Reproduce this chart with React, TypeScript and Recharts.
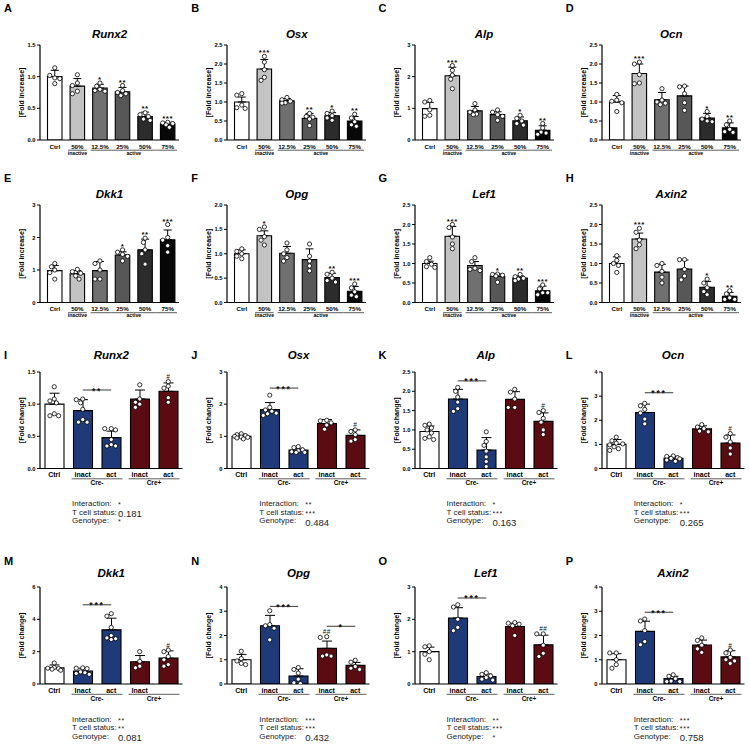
import React from 'react';
import { ComposedChart, Bar, Cell, ErrorBar, XAxis, YAxis, Scatter, ReferenceLine } from 'recharts';

const FONT = '"Liberation Sans", Arial, Helvetica, sans-serif';

// ---- shared categories ----
const doseCats = ['Ctrl', '50%', '12.5%', '25%', '50%', '75%'];
const doseGroups = [{ label: 'inactive', from: 1, to: 1 }, { label: 'active', from: 2, to: 5 }];
const doseColors = ['#ffffff', '#c3c3c3', '#707070', '#575757', '#2c2c2c', '#080808'];
const creCats = ['Ctrl', 'inact', 'act', 'inact', 'act'];
const creCatsM = ['Ctrl', 'Inact', 'act', 'Inact', ''];
const creGroups = [{ label: 'Cre-', from: 1, to: 2 }, { label: 'Cre+', from: 3, to: 4 }];
const creColors = ['#ffffff', '#1f3a78', '#1f3a78', '#5b0c12', '#5b0c12'];
const statNames = ['Interaction:', 'T cell status:', 'Genotype:'];

// ---- A Runx2 ----
const aMean = [1.0, 0.85, 0.82, 0.76, 0.37, 0.25];
const aSd = [0.1, 0.12, 0.06, 0.07, 0.07, 0.03];
const aPts = [[1.14, 0.98, 1.02, 0.97, 0.89], [1.03, 0.9, 0.86, 0.77, 0.73], [0.9, 0.85, 0.8, 0.78, 0.77], [0.86, 0.78, 0.75, 0.73, 0.7], [0.43, 0.4, 0.37, 0.33, 0.31], [0.28, 0.27, 0.26, 0.24, 0.2]];
const aSig = ['', '', '*', '**', '**', '***'];
// ---- B Osx ----
const bMean = [1.0, 1.87, 1.03, 0.57, 0.64, 0.5];
const bSd = [0.13, 0.25, 0.06, 0.13, 0.08, 0.12];
const bPts = [[1.22, 1.18, 0.92, 0.85, 0.83], [2.2, 2.05, 1.85, 1.65, 1.57], [1.12, 1.06, 1.02, 0.98, 0.97], [0.7, 0.62, 0.6, 0.55, 0.38], [0.76, 0.7, 0.64, 0.58, 0.52], [0.68, 0.58, 0.48, 0.4, 0.36]];
const bSig = ['', '***', '', '**', '*', '**'];
// ---- C Alp ----
const cMean = [0.99, 2.03, 0.92, 0.8, 0.61, 0.31];
const cSd = [0.2, 0.27, 0.14, 0.09, 0.12, 0.14];
const cPts = [[1.25, 1.2, 0.95, 0.78, 0.75], [2.35, 2.2, 2.05, 1.92, 1.62], [1.15, 0.95, 0.88, 0.82, 0.8], [0.95, 0.88, 0.8, 0.75, 0.62], [0.78, 0.68, 0.6, 0.52, 0.47], [0.52, 0.38, 0.25, 0.22, 0.18]];
const cSig = ['', '***', '', '', '*', '**'];
// ---- D Ocn ----
const dMean = [1.0, 1.75, 1.06, 1.16, 0.58, 0.32];
const dSd = [0.17, 0.25, 0.19, 0.26, 0.12, 0.13];
const dPts = [[1.2, 1.05, 1.02, 0.98, 0.75], [2.05, 2.0, 1.72, 1.5, 1.48], [1.35, 1.05, 1.0, 0.97, 0.93], [1.42, 1.4, 1.22, 0.98, 0.78], [0.75, 0.62, 0.55, 0.5, 0.48], [0.5, 0.4, 0.28, 0.22, 0.2]];
const dSig = ['', '***', '', '', '*', '**'];
// ---- E Dkk1 ----
const eMean = [0.98, 0.88, 0.98, 1.46, 1.62, 1.93];
const eSd = [0.16, 0.1, 0.28, 0.1, 0.33, 0.3];
const ePts = [[1.2, 1.1, 1.0, 0.92, 0.72], [1.02, 0.95, 0.9, 0.82, 0.72], [1.28, 1.2, 1.0, 0.72, 0.72], [1.62, 1.55, 1.48, 1.42, 1.28], [1.98, 1.85, 1.62, 1.5, 1.18], [2.4, 2.0, 1.92, 1.75, 1.55]];
const eSig = ['', '', '', '*', '**', '***'];
// ---- F Opg ----
const fMean = [1.0, 1.37, 1.01, 0.88, 0.51, 0.23];
const fSd = [0.08, 0.1, 0.14, 0.22, 0.09, 0.1];
const fPts = [[1.1, 1.05, 1.0, 0.95, 0.9], [1.55, 1.5, 1.35, 1.28, 1.18], [1.22, 1.08, 1.0, 0.92, 0.85], [1.2, 0.95, 0.85, 0.75, 0.65], [0.62, 0.58, 0.5, 0.45, 0.42], [0.38, 0.3, 0.22, 0.15, 0.12]];
const fSig = ['', '*', '', '', '**', '***'];
// ---- G Lef1 ----
const gMean = [1.0, 1.7, 0.95, 0.67, 0.63, 0.3];
const gSd = [0.06, 0.25, 0.1, 0.06, 0.05, 0.12];
const gPts = [[1.15, 1.05, 0.98, 0.92, 0.9], [2.0, 1.92, 1.68, 1.5, 1.38], [1.15, 1.05, 0.88, 0.85, 0.82], [0.73, 0.72, 0.7, 0.68, 0.52], [0.72, 0.66, 0.62, 0.6, 0.56], [0.45, 0.35, 0.25, 0.25, 0.2]];
const gSig = ['', '***', '', '*', '**', '***'];
// ---- H Axin2 ----
const hMean = [1.0, 1.63, 0.78, 0.86, 0.39, 0.16];
const hSd = [0.17, 0.15, 0.2, 0.23, 0.15, 0.1];
const hPts = [[1.2, 1.08, 1.0, 0.95, 0.77], [1.9, 1.8, 1.6, 1.48, 1.38], [1.0, 0.95, 0.8, 0.65, 0.5], [1.1, 1.1, 0.85, 0.68, 0.58], [0.6, 0.5, 0.38, 0.28, 0.2], [0.3, 0.22, 0.12, 0.08, 0.08]];
const hSig = ['', '***', '', '', '*', '**'];

// ---- I Runx2 ----
const iMean = [1.0, 0.9, 0.48, 1.08, 1.2];
const iSd = [0.17, 0.17, 0.1, 0.14, 0.13];
const iPts = [[1.27, 1.08, 1.05, 1.02, 0.85, 0.82, 0.82], [1.08, 1.07, 1.02, 0.92, 0.76, 0.72, 0.72], [0.62, 0.62, 0.6, 0.45, 0.37, 0.35, 0.35], [1.3, 1.08, 1.03, 1.0, 0.95], [1.35, 1.28, 1.25, 1.1, 1.03]];
const iHash = ['', '', '', '', '#'];
const iBrackets = [{ from: 1, to: 2, y: 1.22, t: '**' }];
const iStats = ['*', '0.181', '*'];
// ---- J Osx ----
const jMean = [1.0, 1.83, 0.57, 1.4, 1.03];
const jSd = [0.07, 0.22, 0.06, 0.12, 0.17];
const jPts = [[1.08, 1.05, 1.02, 1.0, 0.98, 0.97, 0.95, 0.92], [2.28, 1.9, 1.82, 1.78, 1.72, 1.7, 1.65], [0.68, 0.65, 0.58, 0.55, 0.52, 0.5, 0.5], [1.5, 1.48, 1.42, 1.35, 1.22], [1.2, 1.15, 1.05, 0.9, 0.85]];
const jHash = ['', '', '', '', '#'];
const jBrackets = [{ from: 1, to: 2, y: 2.5, t: '***' }];
const jStats = ['**', '***', '0.484'];
// ---- K Alp ----
const kMean = [0.96, 1.8, 0.48, 1.79, 1.22];
const kSd = [0.14, 0.25, 0.32, 0.2, 0.22];
const kPts = [[1.15, 1.12, 1.05, 1.0, 0.92, 0.82, 0.78, 0.75], [2.1, 2.0, 1.85, 1.72, 1.55, 1.48], [0.95, 0.7, 0.6, 0.45, 0.3, 0.18, 0.05], [2.05, 1.98, 1.8, 1.58, 1.58], [1.5, 1.45, 1.3, 1.2, 1.0, 0.88]];
const kHash = ['', '', '', '', '#'];
const kBrackets = [{ from: 1, to: 2, y: 2.27, t: '***' }];
const kStats = ['*', '***', '0.163'];
// ---- L Ocn ----
const lMean = [1.0, 2.32, 0.42, 1.65, 1.06];
const lSd = [0.2, 0.35, 0.08, 0.12, 0.33];
const lPts = [[1.3, 1.15, 1.05, 1.02, 0.98, 0.9, 0.82, 0.75], [2.7, 2.6, 2.45, 2.3, 2.05, 1.85], [0.52, 0.5, 0.45, 0.42, 0.4, 0.35, 0.3], [1.82, 1.72, 1.65, 1.55, 1.52], [1.45, 1.3, 1.1, 0.85, 0.6]];
const lHash = ['', '', '', '', '#'];
const lBrackets = [{ from: 1, to: 2, y: 3.14, t: '***' }];
const lStats = ['*', '***', '0.265'];
// ---- M Dkk1 ----
const mMean = [1.0, 0.8, 3.35, 1.38, 1.6];
const mSd = [0.18, 0.18, 0.72, 0.38, 0.45];
const mPts = [[1.3, 1.02, 0.98, 0.95, 0.92, 0.85], [1.0, 0.98, 0.95, 0.75, 0.7, 0.65, 0.6], [4.35, 4.2, 3.5, 3.0, 2.85, 2.8, 2.75], [2.0, 1.4, 1.1, 1.0], [2.1, 2.0, 1.7, 1.5, 1.2, 1.1]];
const mHash = ['', '', '', '', '#'];
const mBrackets = [{ from: 1, to: 2, y: 4.9, t: '***' }];
const mStats = ['**', '**', '0.081'];
// ---- N Opg ----
const nMean = [1.0, 2.4, 0.33, 1.47, 0.77];
const nSd = [0.22, 0.43, 0.3, 0.3, 0.12];
const nPts = [[1.35, 1.05, 0.95, 0.85, 0.8], [3.02, 2.45, 2.4, 2.3, 1.82], [0.68, 0.6, 0.45, 0.2, 0.05, 0.02], [1.95, 1.92, 1.2, 1.15, 1.15], [0.98, 0.9, 0.72, 0.65, 0.6]];
const nHash = ['', '', '', '##', ''];
const nBrackets = [{ from: 1, to: 2, y: 3.2, t: '***' }, { from: 3, to: 4, y: 2.38, t: '*' }];
const nStats = ['***', '***', '0.432'];
// ---- O Lef1 ----
const oMean = [1.0, 2.04, 0.23, 1.78, 1.21];
const oSd = [0.14, 0.32, 0.08, 0.1, 0.3];
const oPts = [[1.18, 1.15, 1.0, 0.92, 0.75], [2.45, 2.38, 2.0, 1.75, 1.65], [0.35, 0.3, 0.25, 0.2, 0.15, 0.12], [1.9, 1.88, 1.85, 1.8, 1.5], [1.55, 1.55, 1.2, 0.95, 0.85]];
const oHash = ['', '', '', '', '##'];
const oBrackets = [{ from: 1, to: 2, y: 2.66, t: '***' }];
const oStats = ['**', '***', '*'];
// ---- P Axin2 ----
const pMean = [1.0, 2.17, 0.22, 1.61, 1.12];
const pSd = [0.25, 0.42, 0.1, 0.2, 0.25];
const pPts = [[1.28, 1.28, 1.0, 0.8, 0.65], [2.68, 2.6, 2.2, 1.75, 1.62], [0.38, 0.32, 0.22, 0.12, 0.1, 0.1], [1.9, 1.8, 1.6, 1.45, 1.3], [1.4, 1.28, 1.1, 1.0, 0.95, 0.85]];
const pHash = ['', '', '', '', '#'];
const pBrackets = [{ from: 1, to: 2, y: 2.96, t: '***' }];
const pStats = ['***', '***', '0.758'];

const ticks15 = [0, 0.5, 1.0, 1.5];
const ticks20 = [0, 0.5, 1.0, 1.5, 2.0];
const ticks25 = [0, 0.5, 1.0, 1.5, 2.0, 2.5];
const ticks3 = [0, 1, 2, 3];
const ticks4 = [0, 1, 2, 3, 4];
const ticks6 = [0, 2, 4, 6];

// row layout (page pixels)
const ROWS = [
  { letter: 8, title: 34, top: 44.5, bottom: 139.5, stats: 0 },
  { letter: 178, title: 194, top: 204.5, bottom: 302, stats: 0 },
  { letter: 355, title: 355, top: 371.5, bottom: 468, stats: 504 },
  { letter: 561, title: 573, top: 587.3, bottom: 684.3, stats: 719.5 },
];

type Group = { label: string; from: number; to: number };
type Br = { from: number; to: number; y: number; t: string };
type PanelProps = {
  letter: string; title: string; col: number; row: number;
  cats: string[]; groups: Group[]; colors: string[]; yLabel: string;
  mean: number[]; sd: number[]; pts: number[][]; sig: string[];
  yMax: number; ticks: number[];
  brackets?: Br[]; stats?: string[];
};

// spread the points of one bar sideways so they do not overlap
function swarm(vals: number[], idx: number, pxU: number, band: number, maxOff: number) {
  const placed: { dx: number; dy: number }[] = [];
  const steps = [0, -1, 1, -2, 2, -3, 3];
  return vals.map((v) => {
    const dy = v * pxU;
    let best = 0;
    let bestD = -1;
    for (const s of steps) {
      const dx = (s * maxOff) / 3;
      const d = placed.reduce((m, q) => Math.min(m, Math.hypot(dx - q.dx, dy - q.dy)), Infinity);
      if (d >= 4.4) { best = dx; bestD = d; break; }
      if (d > bestD) { bestD = d; best = dx; }
    }
    placed.push({ dx: best, dy });
    return { x: idx + best / band, v };
  });
}

const Dot = (props: any) => (
  <circle cx={props.cx} cy={props.cy} r={2.1} fill="#fff" stroke="#000" strokeWidth={0.8} />
);

const Mark = (props: any) => {
  const k = props.payload.kind;
  const fs = k === 'br' ? 8.5 : k === 'hash' ? 6.5 : 8;
  const ls = k === 'br' ? 1.8 : k === 'hash' ? 0.3 : 0.6;
  const dy = k === 'br' ? 3.5 : k === 'hash' ? -2.5 : -1;
  return (
    <text x={props.cx} y={props.cy + dy} textAnchor="middle" fontSize={fs} letterSpacing={ls}
      fontWeight={k === 'hash' ? 400 : 700} fontFamily={FONT} fill="#111">{props.payload.t}</text>
  );
};

function Panel(p: PanelProps) {
  const n = p.cats.length;
  const top = p.row < 2;
  const R = ROWS[p.row];
  const left = p.col * 187.25;
  const MT = 10;
  const plotH = R.bottom - R.top;
  const plotL = 40;
  const plotR = top ? 179 : 182.5;
  const padL = top ? 3.5 : 0;
  const band = (plotR - plotL - padL) / n;
  const barW = top ? 14.5 : 19;
  const chartH = MT + plotH + 34;
  const pxU = plotH / p.yMax;
  const dec = p.ticks.some((t) => t % 1 !== 0);

  const data = p.mean.map((m, i) => ({ name: p.cats[i], mean: m, err: [0, p.sd[i]] }));
  const dots = p.pts.flatMap((vals, i) => swarm(vals, i, pxU, band, top ? 5 : 6.5));
  const tops = p.mean.map((m, i) => Math.max(m + p.sd[i], ...p.pts[i]));
  const marks = [
    ...p.sig.map((t, i) => ({ x: i, v: tops[i], t, kind: top ? 'sig' : 'hash' })).filter((d) => d.t),
    ...(p.brackets || []).map((b) => ({ x: (b.from + b.to) / 2, v: b.y, t: b.t, kind: 'br' })),
  ];

  const lab = top ? { l: 8.5, u: 10.2, g: 14.6, fs: 6.2, gfs: 5.2, gap: 2 } : { l: 8.6, u: 10.3, g: 16.6, fs: 7, gfs: 6.5, gap: 3 };

  const renderTick = (tp: any) => {
    const { x, y } = tp;
    const index = tp.index ?? tp.payload?.index ?? 0;
    const g = p.groups.find((gg) => index >= gg.from && index <= gg.to);
    return (
      <g>
        <text x={x} y={y + lab.l} textAnchor="middle" fontSize={lab.fs} fontWeight={700} fontFamily={FONT} fill="#000">
          {p.cats[index]}
        </text>
        {g && (
          <line x1={x - band / 2 + (index === g.from ? lab.gap : 0)} x2={x + band / 2 - (index === g.to ? lab.gap : 0)}
            y1={y + lab.u} y2={y + lab.u} stroke="#333" strokeWidth={0.8} />
        )}
        {g && index === g.from && (
          <text x={x + ((g.to - g.from) * band) / 2} y={y + lab.g} textAnchor="middle" fontSize={lab.gfs}
            fontWeight={700} fontFamily={FONT} fill="#000">{g.label}</text>
        )}
      </g>
    );
  };

  return (
    <>
      <div style={{ position: 'absolute', left: left + 4, top: R.letter - 7, fontSize: 11, lineHeight: '14px', fontWeight: 700, fontFamily: FONT }}>
        {p.letter}
      </div>
      <div style={{ position: 'absolute', left: left + plotL, width: plotR - plotL, top: R.title - 7, textAlign: 'center', fontSize: 11.5, lineHeight: '14px', fontWeight: 700, fontStyle: 'italic', fontFamily: FONT }}>
        {p.title}
      </div>
      <div style={{ position: 'absolute', left, top: R.top - MT }}>
        <ComposedChart width={187} height={chartH} data={data} margin={{ top: MT, right: 187 - plotR, bottom: 0, left: 0 }}>
          <XAxis xAxisId="c" dataKey="name" type="category" interval={0} tickLine={false} tickSize={0} tickMargin={0}
            axisLine={{ stroke: '#000', strokeWidth: 1.2 }} tick={renderTick} height={34} padding={{ left: padL, right: 0 }} />
          <XAxis xAxisId="n" dataKey="x" type="number" domain={[-0.5, n - 0.5]} allowDataOverflow hide padding={{ left: padL, right: 0 }} />
          <YAxis yAxisId="y" type="number" domain={[0, p.yMax]} ticks={p.ticks} interval={0} width={plotL} allowDataOverflow
            tickSize={3} tickMargin={1.5} axisLine={{ stroke: '#000', strokeWidth: 1.2 }} tickLine={{ stroke: '#000', strokeWidth: 1 }}
            tick={{ fontSize: 5.8, fontWeight: 700, fill: '#000', fontFamily: FONT }}
            tickFormatter={(v: number) => (dec ? v.toFixed(1) : String(v))}
            label={{ value: p.yLabel, angle: -90, position: 'insideLeft', offset: 22, style: { textAnchor: 'middle', fontSize: 7, fontWeight: 700, fill: '#000', fontFamily: FONT } }} />
          <Bar xAxisId="c" yAxisId="y" dataKey="mean" barSize={barW} stroke="#000" strokeWidth={1.1} isAnimationActive={false}>
            {data.map((_, i) => <Cell key={i} fill={p.colors[i]} />)}
            <ErrorBar dataKey="err" width={top ? 4 : 5} stroke="#000" strokeWidth={1} direction="y" isAnimationActive={false} />
          </Bar>
          {(p.brackets || []).map((b, i) => (
            <ReferenceLine key={i} xAxisId="n" yAxisId="y" ifOverflow="visible"
              segment={[{ x: b.from, y: b.y }, { x: b.to, y: b.y }]} stroke="#222" strokeWidth={0.9} />
          ))}
          <Scatter xAxisId="n" yAxisId="y" data={dots} dataKey="v" shape={Dot} isAnimationActive={false} />
          <Scatter xAxisId="n" yAxisId="y" data={marks} dataKey="v" shape={Mark} isAnimationActive={false} />
        </ComposedChart>
      </div>
      {p.stats && (
        <div style={{ position: 'absolute', left: left + 72, top: R.stats - 5, width: 110, height: 30, fontFamily: FONT, color: '#222', fontSize: 8, lineHeight: '10px' }}>
          {statNames.map((s, i) => {
            const val = p.stats![i];
            const num = /\d/.test(val);
            return (
              <React.Fragment key={i}>
                <span style={{ position: 'absolute', left: 0, top: i * 8.6, fontSize: 8, lineHeight: '10px', whiteSpace: 'nowrap' }}>{s}</span>
                <span style={{ position: 'absolute', left: 46, top: i * 8.6 + (num ? 1.5 : 1), fontSize: num ? 9.5 : 7, letterSpacing: num ? 0 : 0.8, lineHeight: '10px', whiteSpace: 'nowrap' }}>
                  {val}
                </span>
              </React.Fragment>
            );
          })}
        </div>
      )}
    </>
  );
}

const dose = { cats: doseCats, groups: doseGroups, colors: doseColors, yLabel: '[Fold increase]' };
const cre = { cats: creCats, groups: creGroups, colors: creColors, yLabel: '[Fold change]' };

export default function App() {
  return (
    <div style={{ position: 'absolute', left: 0, top: 0, width: 749, height: 744, background: '#fff', overflow: 'hidden' }}>
      <Panel letter="A" title="Runx2" col={0} row={0} {...dose} mean={aMean} sd={aSd} pts={aPts} sig={aSig} yMax={1.5} ticks={ticks15} />
      <Panel letter="B" title="Osx" col={1} row={0} {...dose} mean={bMean} sd={bSd} pts={bPts} sig={bSig} yMax={2.5} ticks={ticks25} />
      <Panel letter="C" title="Alp" col={2} row={0} {...dose} mean={cMean} sd={cSd} pts={cPts} sig={cSig} yMax={3} ticks={ticks3} />
      <Panel letter="D" title="Ocn" col={3} row={0} {...dose} mean={dMean} sd={dSd} pts={dPts} sig={dSig} yMax={2.5} ticks={ticks25} />
      <Panel letter="E" title="Dkk1" col={0} row={1} {...dose} mean={eMean} sd={eSd} pts={ePts} sig={eSig} yMax={3} ticks={ticks3} />
      <Panel letter="F" title="Opg" col={1} row={1} {...dose} mean={fMean} sd={fSd} pts={fPts} sig={fSig} yMax={2} ticks={ticks20} />
      <Panel letter="G" title="Lef1" col={2} row={1} {...dose} mean={gMean} sd={gSd} pts={gPts} sig={gSig} yMax={2.5} ticks={ticks25} />
      <Panel letter="H" title="Axin2" col={3} row={1} {...dose} mean={hMean} sd={hSd} pts={hPts} sig={hSig} yMax={2.5} ticks={ticks25} />
      <Panel letter="I" title="Runx2" col={0} row={2} {...cre} mean={iMean} sd={iSd} pts={iPts} sig={iHash} brackets={iBrackets} stats={iStats} yMax={1.5} ticks={ticks15} />
      <Panel letter="J" title="Osx" col={1} row={2} {...cre} mean={jMean} sd={jSd} pts={jPts} sig={jHash} brackets={jBrackets} stats={jStats} yMax={3} ticks={ticks3} />
      <Panel letter="K" title="Alp" col={2} row={2} {...cre} mean={kMean} sd={kSd} pts={kPts} sig={kHash} brackets={kBrackets} stats={kStats} yMax={2.5} ticks={ticks25} />
      <Panel letter="L" title="Ocn" col={3} row={2} {...cre} mean={lMean} sd={lSd} pts={lPts} sig={lHash} brackets={lBrackets} stats={lStats} yMax={4} ticks={ticks4} />
      <Panel letter="M" title="Dkk1" col={0} row={3} {...cre} cats={creCatsM} mean={mMean} sd={mSd} pts={mPts} sig={mHash} brackets={mBrackets} stats={mStats} yMax={6} ticks={ticks6} />
      <Panel letter="N" title="Opg" col={1} row={3} {...cre} mean={nMean} sd={nSd} pts={nPts} sig={nHash} brackets={nBrackets} stats={nStats} yMax={4} ticks={ticks4} />
      <Panel letter="O" title="Lef1" col={2} row={3} {...cre} mean={oMean} sd={oSd} pts={oPts} sig={oHash} brackets={oBrackets} stats={oStats} yMax={3} ticks={ticks3} />
      <Panel letter="P" title="Axin2" col={3} row={3} {...cre} mean={pMean} sd={pSd} pts={pPts} sig={pHash} brackets={pBrackets} stats={pStats} yMax={4} ticks={ticks4} />
    </div>
  );
}
